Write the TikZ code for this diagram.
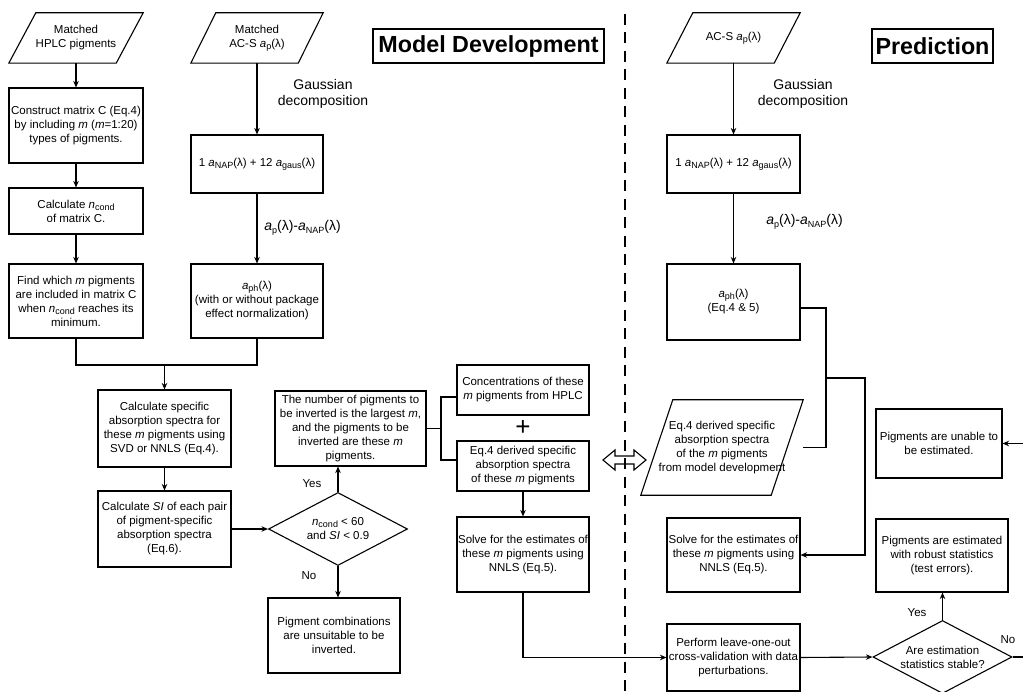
\documentclass[tikz,border=0pt]{standalone}
\usepackage{fontspec}
\setmainfont{Liberation Sans}
\usetikzlibrary{arrows.meta,shapes.geometric}
\newcommand{\ssub}[1]{\raisebox{-0.32ex}{\fontsize{9}{9}\selectfont #1}}
\newcommand{\ia}{\textit{a}}
\newcommand{\im}{\textit{m}}
\newcommand{\paral}[2]{\draw[line width=1.1pt] ([xshift=#2]#1.north west) -- (#1.north east) -- ([xshift=-#2]#1.south east) -- (#1.south west) -- cycle;}
\begin{document}
\begin{tikzpicture}[x=1pt,y=-1pt,
  every node/.style={font=\fontsize{11.5}{14}\selectfont, align=center, inner sep=0pt},
  box/.style={draw, line width=1.1pt, rectangle},
  parnode/.style={rectangle},
  dia/.style={draw, line width=1.1pt, diamond, aspect=2, minimum width=139, minimum height=73},
  lbl/.style={font=\fontsize{14}{16}\selectfont},
  arr/.style={line width=1.1pt, -{Stealth[length=6.5pt,width=5.5pt]}},
  ln/.style={line width=1.1pt},
  ttl/.style={draw, line width=1.6pt, font=\fontsize{23.3}{28}\selectfont\bfseries}
]
\useasboundingbox (0,0) rectangle (1023,692);

% titles
\node[ttl, minimum width=231, minimum height=34] (tmd) at (488.5,46) {Model Development};
\node[ttl, minimum width=121, minimum height=34] (tpr) at (932.5,46) {Prediction};

% dashed separator
\draw[line width=2.6pt, dash pattern=on 11pt off 7.5pt] (625,14) -- (625,692);

% ---------- Model development: left column ----------
\node[parnode, minimum width=134, minimum height=50] (par1) at (76,38) {Matched\\HPLC pigments};
\paral{par1}{27pt}
\node[box, minimum width=134, minimum height=75] (c1) at (76,125.5) {Construct matrix C (Eq.4)\\by including \im{} (\im=1:20)\\types of pigments.};
\node[box, minimum width=134, minimum height=46] (c2) at (76,211) {Calculate \textit{n}\ssub{cond}\\of matrix C.};
\node[box, minimum width=134, minimum height=74] (c3) at (76,301) {Find which \im{} pigments\\are included in matrix C\\when \textit{n}\ssub{cond} reaches its\\minimum.};

% second column
\node[parnode, minimum width=132, minimum height=50] (par2) at (257,38) {Matched\\AC-S \ia\ssub{p}(λ)};
\paral{par2}{25pt}
\node[box, minimum width=132, minimum height=58] (g1) at (257,164) {1 \ia\ssub{NAP}(λ) + 12 \ia\ssub{gaus}(λ)};
\node[box, minimum width=132, minimum height=74] (g2) at (257,301) {\ia\ssub{ph}(λ)\\(with or without package\\effect normalization)};
\node[lbl] (lg1) at (323,94) {Gaussian\\decomposition};
\node[lbl] (lg2) at (302.5,228) {\ia\ssub{p}(λ)-\ia\ssub{NAP}(λ)};

% lower part
\node[box, minimum width=133, minimum height=77] (s1) at (164.5,428.5) {Calculate specific\\absorption spectra for\\these \im{} pigments using\\SVD or NNLS (Eq.4).};
\node[box, minimum width=133, minimum height=76] (s2) at (164.5,529) {Calculate \textit{SI} of each pair\\of pigment-specific\\absorption spectra\\(Eq.6).};
\node[dia] (d1) at (338,529) {\textit{n}\ssub{cond} < 60\\and \textit{SI} < 0.9};
\node[box, minimum width=151, minimum height=75] (r1) at (350.5,428.5) {The number of pigments to\\be inverted is the largest \im,\\and the pigments to be\\inverted are these \im\\pigments.};
\node[box, minimum width=132, minimum height=75] (r2) at (334,635.5) {Pigment combinations\\are unsuitable to be\\inverted.};
\node (yes1) at (312,484) {Yes};
\node (no1) at (309,576) {No};

\node[box, minimum width=132, minimum height=50] (m1) at (523,390) {Concentrations of these\\\im{} pigments from HPLC};
\node[font=\fontsize{26}{26}\selectfont] (plus) at (523,428) {+};
\node[box, minimum width=132, minimum height=50] (m2) at (523,466) {Eq.4 derived specific\\absorption spectra\\of these \im{} pigments};
\node[box, minimum width=132, minimum height=75] (m3) at (523,554.5) {Solve for the estimates of\\these \im{} pigments using\\NNLS (Eq.5).};

% ---------- Prediction ----------
\node[parnode, minimum width=133, minimum height=50] (par0) at (733.5,38) {AC-S \ia\ssub{p}(λ)};
\paral{par0}{26pt}
\node[box, minimum width=133, minimum height=58] (p1) at (733.5,164) {1 \ia\ssub{NAP}(λ) + 12 \ia\ssub{gaus}(λ)};
\node[box, minimum width=133, minimum height=76] (p2) at (733.5,302) {\ia\ssub{ph}(λ)\\(Eq.4 \& 5)};
\node[lbl] (lp1) at (803,94) {Gaussian\\decomposition};
\node[lbl] (lp2) at (804.5,222) {\ia\ssub{p}(λ)-\ia\ssub{NAP}(λ)};
\node[parnode, minimum width=162, minimum height=95] (par3) at (722,447.5) {Eq.4 derived specific\\absorption spectra\\of the \im{} pigments\\from model development};
\paral{par3}{32pt}
\node[box, minimum width=133, minimum height=74] (p4) at (733.5,555) {Solve for the estimates of\\these \im{} pigments using\\NNLS (Eq.5).};
\node[box, minimum width=133, minimum height=67] (p5) at (733.5,657.5) {Perform leave-one-out\\cross-validation with data\\perturbations.};
\node[dia] (p6) at (942.5,657) {Are estimation\\statistics stable?};
\node[box, minimum width=132, minimum height=73] (p7) at (942,555.5) {Pigments are estimated\\with robust statistics\\(test errors).};
\node[box, minimum width=126, minimum height=69] (p8) at (939,443.5) {Pigments are unable to\\be estimated.};
\node (yes2) at (917,613) {Yes};
\node (no2) at (1008,640) {No};

% ---------- connectors ----------
\draw[arr] (c1.north |- par1.south) -- (c1.north);
\draw[arr] (c1.south) -- (c2.north);
\draw[arr] (c2.south) -- (c3.north);
\draw[arr] (par2.south) -- (g1.north);
\draw[arr] (g1.south) -- (g2.north);
\coordinate (j1) at (164.5,365);
\draw[ln] (c3.south) |- (j1) -| (g2.south);
\draw[arr] (j1) -- (s1.north);
\draw[arr] (s1.south) -- (s2.north);
\draw[arr] (s2.east) -- (d1.west);
\draw[arr] (d1.north) -- (d1.north |- r1.south);
\draw[arr] (d1.south) -- (d1.south |- r2.north);
\coordinate (bk) at (441,428.5);
\draw[ln] (r1.east) -- (bk);
\draw[ln] ([yshift=-7pt]m1.west) -| (bk) |- ([yshift=6pt]m2.west);
\draw[arr] (m2.south) -- (m3.north);
\draw[arr] (m3.south) |- (p5.west);

\draw[arr] (par0.south) -- (p1.north);
\draw[arr] (p1.south) -- (p2.north);
\coordinate (j2) at (826,378);
\coordinate (j3) at (865,378);
\draw[arr] ([yshift=-6pt]p2.east) -| (j2) -- (j3) |- (p4.east);
\draw[ln] (par3.east) -| (j2);
\draw[arr] (p5.east) -- (p6.west);
\draw[arr] (p6.north) -- (p6.north |- p7.south);
\coordinate (e2) at (1023,657);
\draw[ln] (p6.east) -- (e2);
\coordinate (e1) at (1023,443.5);
\draw[arr] (e1) -- (p8.east);

% hollow double arrow
\draw[line width=1.1pt] (603,460) -- (615,450) -- (615,456) -- (634,456) -- (634,450) -- (646,460) -- (634,470) -- (634,464) -- (615,464) -- (615,470) -- cycle;
\end{tikzpicture}
\end{document}
